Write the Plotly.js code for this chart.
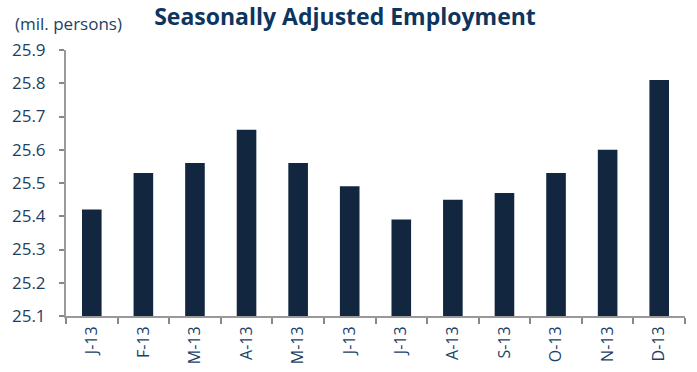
<!DOCTYPE html>
<html>
<head>
<meta charset="utf-8">
<script src="https://cdn.plot.ly/plotly-3.0.1.min.js"></script>
<style>html,body{margin:0;padding:0;background:#fff;}#chart{width:697px;height:372px;}</style>
</head>
<body>
<div id="chart"></div>
<script>
var monthIds = ["Jan-13","Feb-13","Mar-13","Apr-13","May-13","Jun-13","Jul-13","Aug-13","Sep-13","Oct-13","Nov-13","Dec-13"];
var tickLabels = ["J-13","F-13","M-13","A-13","M-13","J-13","J-13","A-13","S-13","O-13","N-13","D-13"];
var employment = [25.42, 25.53, 25.56, 25.66, 25.56, 25.49, 25.39, 25.45, 25.47, 25.53, 25.60, 25.81];
var yTicks = [25.1, 25.2, 25.3, 25.4, 25.5, 25.6, 25.7, 25.8, 25.9];

var textColor = "#1c3f66";
var fontFam = "Open Sans, Noto Sans, sans-serif";

var trace = {
  type: "bar",
  x: monthIds,
  y: employment,
  marker: {color: "#12263f", line: {width: 0}},
  width: 0.38,
  hoverinfo: "x+y"
};

var layout = {
  width: 697, height: 372,
  margin: {l: 66, r: 12, t: 50, b: 56},
  paper_bgcolor: "#fff", plot_bgcolor: "#fff",
  showlegend: false,
  title: {
    text: "<b>Seasonally Adjusted Employment</b>",
    font: {family: fontFam, size: 23, color: "#0d355e"},
    x: 0.495, xanchor: "center", y: 0.955, yanchor: "middle", xref: "container", yref: "container"
  },
  xaxis: {
    type: "category",
    tickmode: "array", tickvals: monthIds, ticktext: tickLabels,
    tickson: "boundaries",
    ticks: "outside", ticklen: 6, tickcolor: "#888", tickwidth: 2,
    showline: true, linecolor: "#999", linewidth: 2,
    showgrid: false, zeroline: false,
    tickangle: -90,
    tickfont: {family: fontFam, size: 16, color: textColor},
    ticklabelstandoff: 2,
    range: [-0.5, 11.5],
    fixedrange: true
  },
  yaxis: {
    range: [25.1, 25.9],
    tickmode: "array",
    tickvals: yTicks,
    ticktext: yTicks.map(function(v){return v.toFixed(1);}),
    ticks: "outside", ticklen: 5, tickcolor: "#888", tickwidth: 2,
    showline: true, linecolor: "#999", linewidth: 2,
    showgrid: false, zeroline: false,
    tickfont: {family: fontFam, size: 17, color: textColor},
    ticklabelstandoff: 10,
    fixedrange: true
  },
  annotations: [{
    text: "(mil. persons)",
    xref: "paper", yref: "paper",
    x: -0.085, y: 1.1, xanchor: "left", yanchor: "middle",
    showarrow: false,
    font: {family: fontFam, size: 17, color: textColor}
  }]
};

Plotly.newPlot("chart", [trace], layout, {displayModeBar: false, staticPlot: true});
</script>
</body>
</html>
